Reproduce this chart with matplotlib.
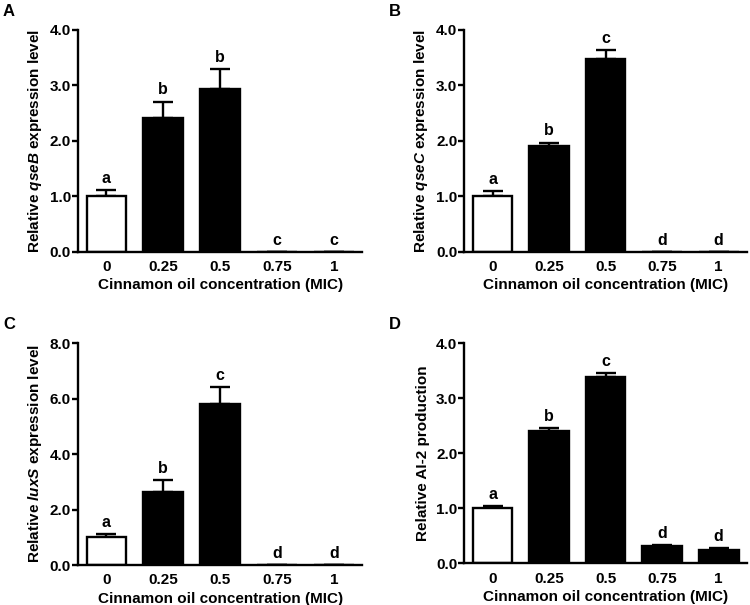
import matplotlib
matplotlib.use("Agg")
import matplotlib.pyplot as plt
import numpy as np

plt.rcParams['font.family'] = ['Liberation Sans', 'DejaVu Sans']
plt.rcParams['font.weight'] = 'bold'
plt.rcParams['mathtext.fontset'] = 'custom'
plt.rcParams['mathtext.it'] = 'Liberation Sans:italic:bold'
plt.rcParams['mathtext.rm'] = 'Liberation Sans:bold'

conc = ['0', '0.25', '0.5', '0.75', '1']

# panel A: qseB
qseB_mean = [1.0, 2.41, 2.94, 0.0, 0.0]
qseB_err = [0.12, 0.30, 0.36, 0.0, 0.0]
qseB_sig = ['a', 'b', 'b', 'c', 'c']

# panel B: qseC
qseC_mean = [1.0, 1.91, 3.47, 0.0, 0.0]
qseC_err = [0.09, 0.06, 0.17, 0.0, 0.0]
qseC_sig = ['a', 'b', 'c', 'd', 'd']

# panel C: luxS
luxS_mean = [1.0, 2.65, 5.81, 0.0, 0.0]
luxS_err = [0.11, 0.42, 0.60, 0.0, 0.0]
luxS_sig = ['a', 'b', 'c', 'd', 'd']

# panel D: AI-2
ai2_mean = [1.0, 2.41, 3.39, 0.32, 0.24]
ai2_err = [0.04, 0.05, 0.06, 0.01, 0.04]
ai2_sig = ['a', 'b', 'c', 'd', 'd']

panels = [
    ('A', qseB_mean, qseB_err, qseB_sig, r'Relative $\mathit{qseB}$ expression level', 4.0, [0.104, 0.5835, 0.379, 0.367]),
    ('B', qseC_mean, qseC_err, qseC_sig, r'Relative $\mathit{qseC}$ expression level', 4.0, [0.619, 0.5835, 0.377, 0.367]),
    ('C', luxS_mean, luxS_err, luxS_sig, r'Relative $\mathit{luxS}$ expression level', 8.0, [0.104, 0.066, 0.379, 0.367]),
    ('D', ai2_mean, ai2_err, ai2_sig, 'Relative AI-2 production', 4.0, [0.619, 0.069, 0.377, 0.364]),
]

fig = plt.figure(figsize=(7.5, 6.05), dpi=100)

for letter, mean, err, sig, ylab, ymax, pos in panels:
    ax = fig.add_axes(pos)
    x = np.arange(len(conc))
    colors = ['white'] + ['black'] * (len(conc) - 1)
    ax.errorbar(x, mean, yerr=[np.zeros(len(err)), err], fmt='none',
                ecolor='black', elinewidth=1.7, capsize=7, capthick=1.7, zorder=1)
    ax.bar(x, mean, width=0.7, color=colors, edgecolor='black', linewidth=1.7, zorder=2)
    for i in range(len(conc)):
        ax.annotate(sig[i], (x[i], mean[i] + err[i]), xytext=(0, 3),
                    textcoords='offset points', ha='center', va='bottom',
                    fontsize=11.5, fontweight='bold')
    ax.set_xlim(-0.5, 4.5)
    ax.set_ylim(0, ymax)
    ax.set_yticks(np.linspace(0, ymax, 5))
    ax.set_yticklabels(['%.1f' % v for v in np.linspace(0, ymax, 5)])
    ax.set_xticks(x)
    ax.set_xticklabels(conc)
    ax.spines['top'].set_visible(False)
    ax.spines['right'].set_visible(False)
    ax.spines['left'].set_linewidth(1.7)
    ax.spines['bottom'].set_linewidth(1.7)
    ax.tick_params(axis='y', length=4, width=1.7, labelsize=11, pad=1)
    ax.tick_params(axis='x', length=0, labelsize=11, pad=6)
    ax.set_xlabel('Cinnamon oil concentration (MIC)', fontsize=11, fontweight='bold', labelpad=3)
    ax.set_ylabel(ylab, fontsize=11, fontweight='bold', labelpad=4)
    for t in ax.get_xticklabels() + ax.get_yticklabels():
        t.set_fontweight('bold')
    ax.text(pos[0] - 0.1, pos[1] + pos[3] + 0.043, letter, transform=fig.transFigure,
            fontsize=12, fontweight='bold', ha='left', va='top')

fig.savefig('out.png', dpi=100)
